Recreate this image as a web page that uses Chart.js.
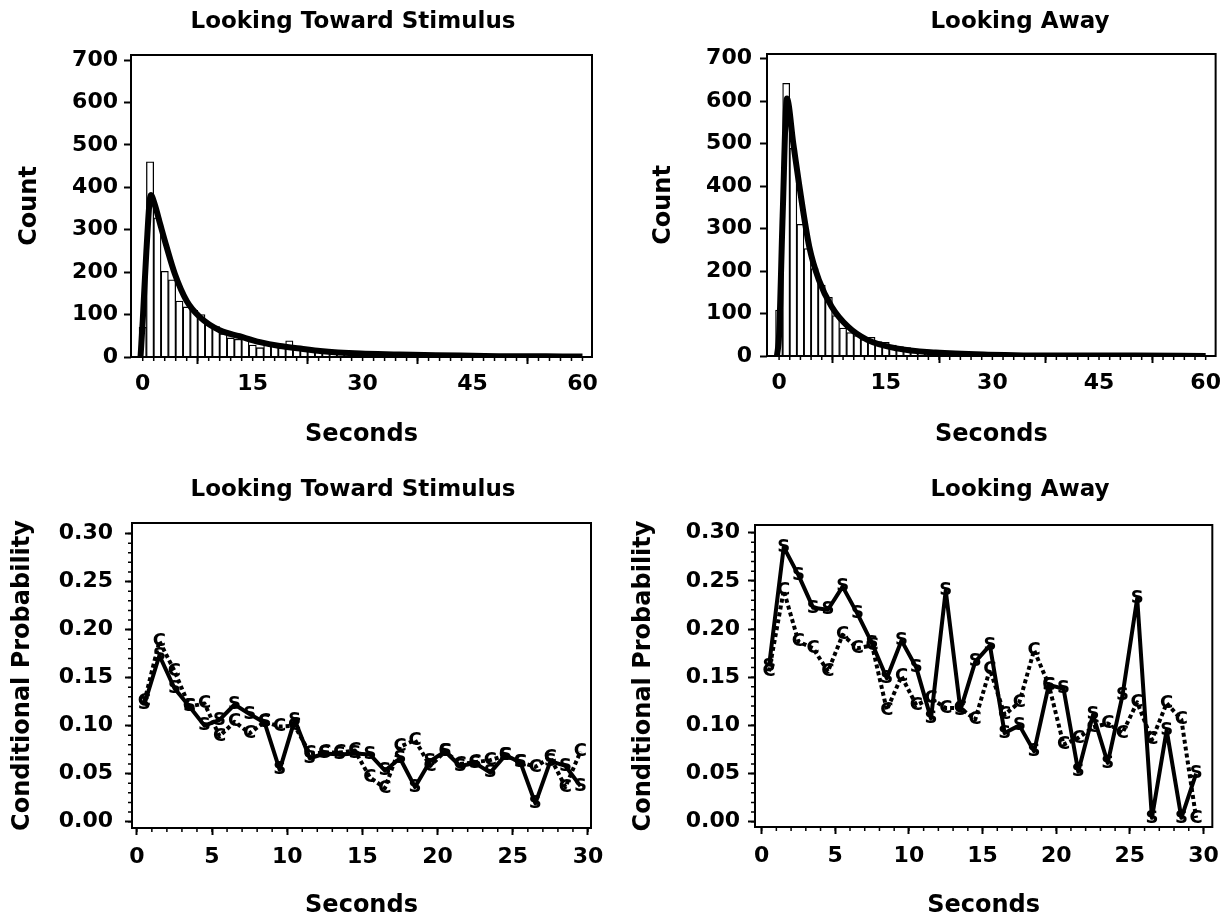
<!DOCTYPE html>
<html lang="en">
<head>
<meta charset="UTF-8">
<title>Looking Toward Stimulus / Looking Away</title>
<script src="https://cdn.jsdelivr.net/npm/chart.js"></script>
<style>
  html, body { margin: 0; padding: 0; background: #fff; overflow: hidden; width: 1228px; height: 917px; }
  .panel { position: absolute; width: 614px; height: 460px; }
</style>
</head>
<body>
<div class="panel" style="left:0;top:0"><canvas id="towardHist"></canvas></div>
<div class="panel" style="left:614px;top:0"><canvas id="awayHist"></canvas></div>
<div class="panel" style="left:0;top:460px"><canvas id="towardProb"></canvas></div>
<div class="panel" style="left:614px;top:460px"><canvas id="awayProb"></canvas></div>

<script>
// ---- histogram data (1 s bins, centred on whole seconds) ----
const histSeconds = [0, 1, 2, 3, 4, 5, 6, 7, 8, 9, 10, 11, 12, 13, 14, 15, 16, 17, 18, 19, 20,
  21, 22, 23, 24, 25, 26, 27, 28, 29, 30, 31, 32, 33, 34, 35, 36, 37, 38, 39, 40,
  41, 42, 43, 44, 45, 46, 47, 48, 49, 50, 51, 52, 53, 54, 55, 56, 57, 58, 59, 60];

const towardCounts = [70, 460, 328, 202, 182, 132, 118, 110, 100, 76, 72,
  55, 45, 42, 44, 28, 22, 30, 26, 22, 38, 18, 16, 18, 16, 14, 12, 10, 14, 11, 10,
  12, 9, 8, 7, 6, 6, 5, 5, 5, 4, 4, 4, 3, 5, 6, 3, 3, 2, 3, 2,
  2, 2, 2, 2, 1, 2, 1, 1, 1, 1];

const awayCounts = [108, 642, 489, 310, 253, 206, 167, 138, 95, 66, 55,
  48, 39, 44, 34, 32, 26, 22, 20, 16, 14, 12, 11, 10, 9, 8, 7, 6, 6, 5, 5,
  4, 4, 4, 3, 3, 3, 3, 2, 2, 2, 2, 2, 2, 1, 2, 1, 1, 1, 1, 1,
  1, 1, 1, 1, 1, 1, 1, 1, 1, 1];

// fitted curves
const towardCurveX = [-0.3, 0, 0.5, 1.1, 1.6, 2.4, 3.2, 4.4, 6, 7.8, 10.5, 13.2, 16, 18.7, 21.5, 24.2, 29.7, 35, 40, 45, 50, 55, 60];
const towardCurveY = [0, 85, 250, 382, 362, 312, 263, 195, 132, 94, 63, 49, 35, 26, 20, 14, 8, 6, 4, 3, 2, 2, 1];
const awayCurveX = [-0.3, 0, 0.5, 1.1, 2, 2.8, 4.25, 5.6, 7.4, 9.7, 12.4, 16.5, 22, 29.4, 40, 50, 60];
const awayCurveY = [0, 50, 330, 606, 500, 406, 257, 179, 116, 69, 38, 18, 8, 3, 1, 1, 0];

const countTicks = [0, 100, 200, 300, 400, 500, 600, 700];
const histSecondTicks = [0, 15, 30, 45, 60];

// ---- conditional probability data ----
const probSeconds = [0.5, 1.5, 2.5, 3.5, 4.5, 5.5, 6.5, 7.5, 8.5, 9.5, 10.5, 11.5, 12.5, 13.5, 14.5,
  15.5, 16.5, 17.5, 18.5, 19.5, 20.5, 21.5, 22.5, 23.5, 24.5, 25.5, 26.5, 27.5, 28.5, 29.5];

const towardS = [0.122, 0.173, 0.139, 0.120, 0.100, 0.106, 0.122, 0.112, 0.103, 0.054, 0.106, 0.066, 0.071, 0.070, 0.071,
  0.070, 0.053, 0.066, 0.036, 0.063, 0.073, 0.058, 0.061, 0.051, 0.069, 0.062, 0.019, 0.063, 0.058, 0.037];
const towardC = [0.125, 0.188, 0.157, 0.120, 0.123, 0.089, 0.104, 0.092, 0.104, 0.099, 0.100, 0.071, 0.072, 0.072, 0.074,
  0.046, 0.035, 0.078, 0.085, 0.058, 0.073, 0.060, 0.062, 0.064, 0.069, 0.062, 0.057, 0.067, 0.036, 0.073];

const awayS = [0.161, 0.285, 0.256, 0.222, 0.220, 0.244, 0.216, 0.185, 0.149, 0.188, 0.160, 0.107, 0.240, 0.116, 0.166,
  0.183, 0.092, 0.100, 0.073, 0.142, 0.138, 0.052, 0.111, 0.061, 0.131, 0.232, 0.004, 0.095, 0.004, 0.050];
const awayC = [0.156, 0.240, 0.187, 0.180, 0.156, 0.194, 0.180, 0.183, 0.116, 0.151, 0.121, 0.128, 0.118, 0.118, 0.106,
  0.158, 0.111, 0.124, 0.178, 0.142, 0.080, 0.087, 0.098, 0.102, 0.092, 0.124, 0.085, 0.123, 0.106, 0.004];

const probTicks = [0, 0.05, 0.10, 0.15, 0.20, 0.25, 0.30];
const probSecondTicks = [0, 5, 10, 15, 20, 25, 30];

// ---- shared look ----
const FONT = '"DejaVu Sans", "Liberation Sans", sans-serif';
const tickFont = { family: FONT, size: 22, weight: 'bold' };
const axisFont = { family: FONT, size: 24, weight: 'bold' };

function range(from, to, step) {
  const out = [];
  for (let v = from; v <= to + 1e-9; v += step) out.push(+v.toFixed(4));
  return out;
}

// box round the plot, minor ticks and the panel title
const framePlugin = {
  id: 'frame',
  afterDraw(chart, args, opts) {
    const { ctx, chartArea: a, scales } = chart;
    ctx.save();
    ctx.strokeStyle = '#000';
    ctx.lineWidth = 2;
    ctx.strokeRect(a.left, a.top, a.right - a.left, a.bottom - a.top);
    ctx.lineWidth = 1.5;
    ctx.beginPath();
    (opts.xMinor || []).forEach(v => {
      const px = scales.x.getPixelForValue(v);
      ctx.moveTo(px, a.bottom); ctx.lineTo(px, a.bottom + 4);
    });
    (opts.yMinor || []).forEach(v => {
      const py = scales.y.getPixelForValue(v);
      ctx.moveTo(a.left, py); ctx.lineTo(a.left - 4, py);
    });
    ctx.stroke();
    ctx.font = 'bold 23px ' + FONT;
    ctx.fillStyle = '#000';
    ctx.textAlign = 'center';
    ctx.textBaseline = 'middle';
    ctx.fillText(opts.title, opts.titleX, opts.titleY);
    ctx.restore();
  }
};

// draws the S / C letters used as point markers
const letterPlugin = {
  id: 'letters',
  afterDatasetsDraw(chart) {
    const ctx = chart.ctx;
    ctx.save();
    ctx.font = 'bold 18px ' + FONT;
    ctx.fillStyle = '#000';
    ctx.textAlign = 'center';
    ctx.textBaseline = 'middle';
    chart.data.datasets.forEach((ds, i) => {
      if (!ds.letter) return;
      chart.getDatasetMeta(i).data.forEach(pt => ctx.fillText(ds.letter, pt.x, pt.y));
    });
    ctx.restore();
  }
};

function axisX(min, max, ticks, fmt, boxHeight, titlePad, tickPad) {
  return {
    type: 'linear', min, max, offset: false,
    afterBuildTicks: s => { s.ticks = ticks.map(v => ({ value: v })); },
    afterFit: s => { s.height = boxHeight; },
    grid: { drawOnChartArea: false, drawTicks: true, tickLength: 7, tickWidth: 2, tickColor: '#000' },
    border: { display: false },
    ticks: { font: tickFont, color: '#000', padding: tickPad, maxRotation: 0, autoSkip: false, callback: fmt },
    title: { display: true, text: 'Seconds', font: axisFont, color: '#000', padding: { top: 0, bottom: titlePad } }
  };
}

function axisY(min, max, ticks, fmt, label, boxWidth, titlePad, tickPad) {
  return {
    type: 'linear', min, max,
    afterBuildTicks: s => { s.ticks = ticks.map(v => ({ value: v })); },
    afterFit: s => { s.width = boxWidth; },
    grid: { drawOnChartArea: false, drawTicks: true, tickLength: 7, tickWidth: 2, tickColor: '#000' },
    border: { display: false },
    ticks: { font: tickFont, color: '#000', padding: tickPad, autoSkip: false, callback: fmt },
    title: { display: true, text: label, font: axisFont, color: '#000', padding: { top: titlePad, bottom: 0 } }
  };
}

function histChart(id, title, counts, curveX, curveY, p) {
  new Chart(document.getElementById(id), {
    type: 'bar',
    data: {
      datasets: [
        {
          type: 'line',
          data: curveX.map((x, i) => ({ x, y: curveY[i] })),
          borderColor: '#000', borderWidth: 6, pointRadius: 0, borderJoinStyle: 'round',
          cubicInterpolationMode: 'monotone', order: 0
        },
        {
          type: 'bar',
          data: histSeconds.map((x, i) => ({ x, y: counts[i] })),
          backgroundColor: '#fff', borderColor: '#000', borderWidth: 1.3,
          barPercentage: 1, categoryPercentage: 1, order: 1
        }
      ]
    },
    options: {
      animation: false, responsive: true, maintainAspectRatio: false,
      layout: { padding: { left: 0, right: p.right, top: p.top, bottom: 0 } },
      scales: {
        x: axisX(p.xMin, p.xMax, histSecondTicks, v => v, p.xBox, p.xTitlePad, 7),
        y: axisY(0, p.yMax, countTicks, v => v, 'Count', p.yBox, p.yTitlePad, p.yTickPad)
      },
      plugins: {
        legend: { display: false }, tooltip: { enabled: false },
        frame: { title, titleX: p.titleX, titleY: p.titleY, xMinor: range(0, 60, 1.5) }
      }
    },
    plugins: [framePlugin]
  });
}

function probChart(id, title, sVals, cVals, p) {
  new Chart(document.getElementById(id), {
    type: 'line',
    data: {
      datasets: [
        {
          data: probSeconds.map((x, i) => ({ x, y: sVals[i] })), letter: 'S',
          borderColor: '#000', borderWidth: 4, borderJoinStyle: 'round', pointRadius: 0, tension: 0
        },
        {
          data: probSeconds.map((x, i) => ({ x, y: cVals[i] })), letter: 'C',
          borderColor: '#000', borderWidth: 4, borderJoinStyle: 'round', borderDash: [4, 3], pointRadius: 0, tension: 0
        }
      ]
    },
    options: {
      animation: false, responsive: true, maintainAspectRatio: false,
      layout: { padding: { left: 0, right: p.right, top: p.top, bottom: 0 } },
      scales: {
        x: axisX(p.xMin, p.xMax, probSecondTicks, v => v, p.xBox, 0, 9),
        y: axisY(p.yMin, p.yMax, probTicks, v => v.toFixed(2), 'Conditional Probability', p.yBox, p.yTitlePad, p.yTickPad)
      },
      plugins: {
        legend: { display: false }, tooltip: { enabled: false },
        frame: { title, titleX: p.titleX, titleY: p.titleY, xMinor: range(0, 30, 1), yMinor: range(0, 0.30, 0.01) }
      }
    },
    plugins: [framePlugin, letterPlugin]
  });
}

histChart('towardHist', 'Looking Toward Stimulus', towardCounts, towardCurveX, towardCurveY, {
  xMin: -1.6, xMax: 61.3, yMax: 712, right: 22, top: 55, xBox: 103, yBox: 131,
  xTitlePad: 11, yTitlePad: 15, yTickPad: 6, titleX: 353, titleY: 22
});
histChart('awayHist', 'Looking Away', awayCounts, awayCurveX, awayCurveY, {
  xMin: -1.7, xMax: 61.4, yMax: 711, right: 1, top: 54, xBox: 104, yBox: 153,
  xTitlePad: 11, yTitlePad: 35, yTickPad: 8, titleX: 406, titleY: 22
});
probChart('towardProb', 'Looking Toward Stimulus', towardS, towardC, {
  xMin: -0.32, xMax: 30.2, yMin: -0.0066, yMax: 0.311, right: 23, top: 63, xBox: 92, yBox: 132,
  yTitlePad: 8, yTickPad: 12, titleX: 353, titleY: 30
});
probChart('awayProb', 'Looking Away', awayS, awayC, {
  xMin: -0.45, xMax: 30.6, yMin: -0.0055, yMax: 0.308, right: 11, top: 65, xBox: 93, yBox: 141,
  yTitlePad: 15, yTickPad: 8, titleX: 406, titleY: 30
});
</script>
</body>
</html>
